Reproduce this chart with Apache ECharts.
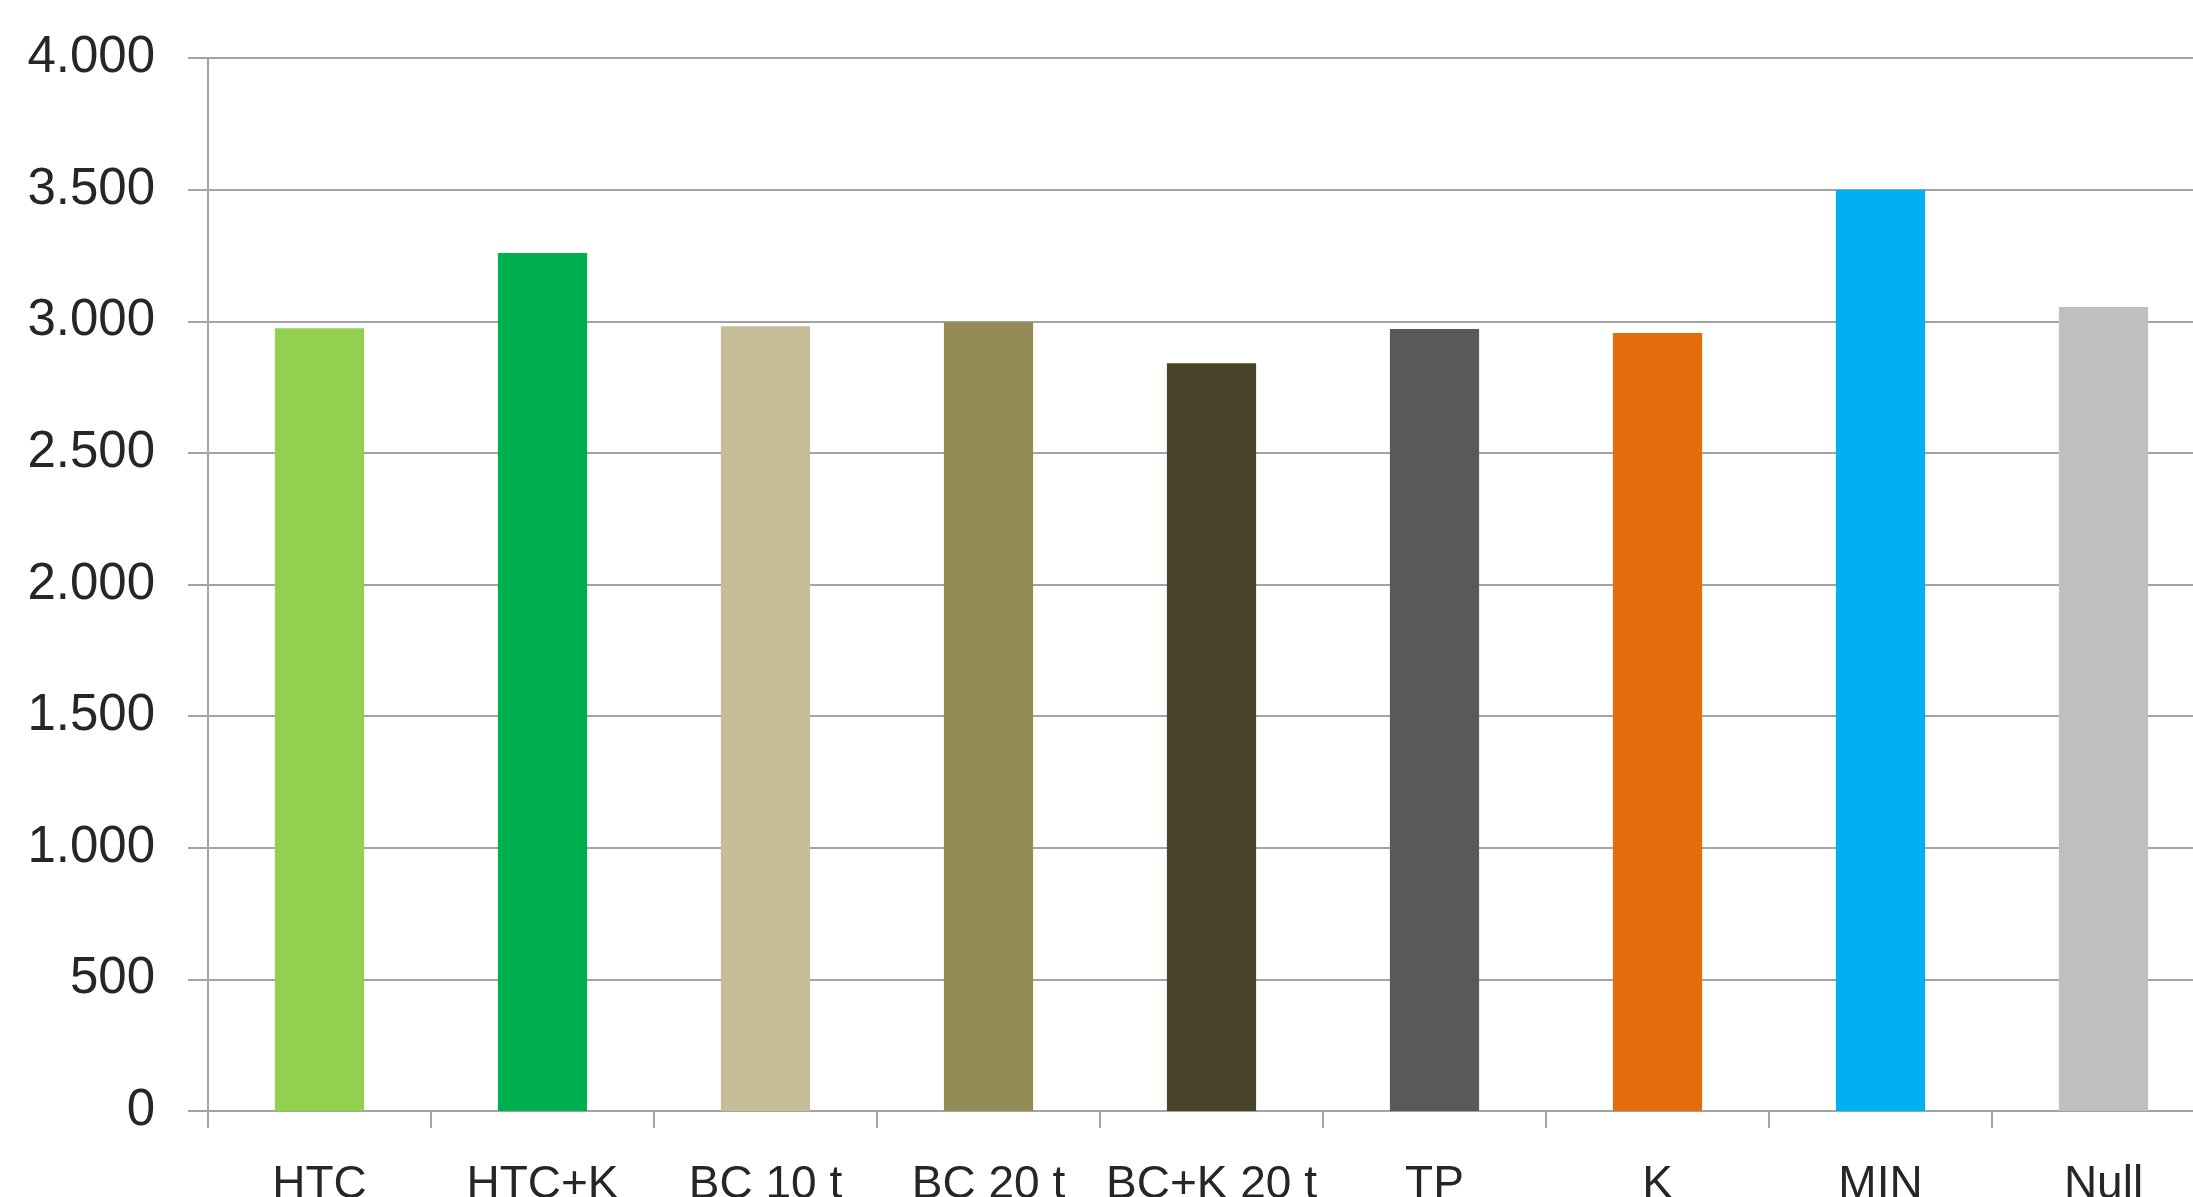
<!DOCTYPE html>
<html>
<head>
<meta charset="utf-8">
<title>Bar chart</title>
<script src="https://cdn.jsdelivr.net/npm/echarts@6/dist/echarts.min.js"></script>
<style>
  html, body { margin: 0; padding: 0; background: #ffffff; }
  #chart { width: 2193px; height: 1197px; }
</style>
</head>
<body>
<div id="chart"></div>
<script>
// Treatment categories along the x axis
const categories = ['HTC', 'HTC+K', 'BC 10 t', 'BC 20 t', 'BC+K 20 t', 'TP', 'K', 'MIN', 'Null'];

// Measured value per treatment
const values = [2973, 3259, 2981, 2996, 2840, 2971, 2955, 3500, 3054];

// One fill colour per treatment
const barColors = ['#92D050', '#00B050', '#C4BD97', '#948A54', '#4A452A', '#595959', '#E46C0A', '#00B0F0', '#BFBFBF'];

// Value axis range and step
const yMin = 0;
const yMax = 4000;
const yStep = 500;

// Thousands separator as a dot (4.000, 3.500, ...)
function formatThousands(v) {
  return String(Math.round(v)).replace(/\B(?=(\d{3})+(?!\d))/g, '.');
}

const chart = echarts.init(document.getElementById('chart'), null, { renderer: 'canvas' });

const gridColor = '#A3A3A3';
const textColor = '#262626';
const fontFamily = '"Liberation Sans", Arial, sans-serif';

chart.setOption({
  backgroundColor: '#ffffff',
  animation: false,
  grid: {
    left: 208,
    top: 58,
    right: -22,
    bottom: 86,
    containLabel: false,
    outerBoundsMode: 'none'
  },
  xAxis: {
    type: 'category',
    data: categories,
    boundaryGap: true,
    axisLine: { show: true, lineStyle: { color: gridColor, width: 2 } },
    axisTick: { show: true, length: 17, alignWithLabel: false, lineStyle: { color: gridColor, width: 2 } },
    axisLabel: {
      color: textColor,
      fontFamily: fontFamily,
      fontSize: 46,
      margin: 51,
      interval: 0
    },
    splitLine: { show: false }
  },
  yAxis: {
    type: 'value',
    min: yMin,
    max: yMax,
    interval: yStep,
    axisLine: { show: true, lineStyle: { color: gridColor, width: 2 } },
    axisTick: { show: true, length: 20, lineStyle: { color: gridColor, width: 2 } },
    axisLabel: {
      color: textColor,
      fontFamily: fontFamily,
      fontSize: 51,
      margin: 53,
      formatter: formatThousands
    },
    splitLine: { show: true, lineStyle: { color: gridColor, width: 2 } }
  },
  series: [{
    type: 'bar',
    barWidth: '40%',
    data: values.map((v, i) => ({ value: v, itemStyle: { color: barColors[i] } })),
    label: { show: false }
  }]
});
</script>
</body>
</html>
